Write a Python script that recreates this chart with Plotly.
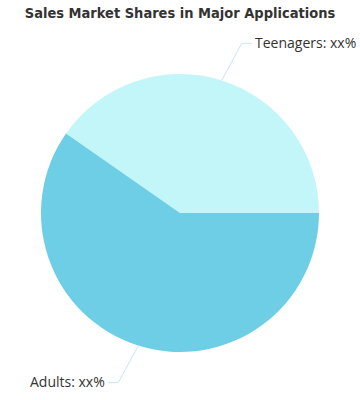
import math
import plotly.graph_objects as go

labels = ["Teenagers", "Adults"]
values = [40.3, 59.7]
label_texts = ["Teenagers: xx%", "Adults: xx%"]
colors = ["#c3f6f9", "#6dcee6"]

W, H = 360, 400
cx, cy, R = 180, 213, 139
total = sum(values)
first_deg = values[0] / total * 360.0

fig = go.Figure(go.Pie(
    labels=labels, values=values, sort=False,
    direction="counterclockwise", rotation=90 - first_deg,
    marker=dict(colors=colors, line=dict(width=0)),
    textinfo="none", hoverinfo="label+percent",
    domain=dict(x=[(cx - R) / W, (cx + R) / W],
                y=[1 - (cy + R) / H, 1 - (cy - R) / H]),
    showlegend=False,
))

px = lambda x: x / W
py = lambda y: 1 - y / H

shapes, annotations = [], []
start = 0.0
for v, txt in zip(values, label_texts):
    mid = start + v / total * 180.0  # degrees, counterclockwise from 3 o'clock
    start += v / total * 360.0
    a = math.radians(mid)
    x0, y0 = cx + R * math.cos(a), cy - R * math.sin(a)
    side = 1 if math.cos(a) >= 0 else -1
    vert = -1 if math.sin(a) >= 0 else 1
    x1, y1 = x0 + 20 * side, y0 + 37 * vert
    x2 = x1 + 10 * side
    shapes.append(dict(type="path", xref="paper", yref="paper",
                       path=f"M {px(x0)} {py(y0)} L {px(x1)} {py(y1)} L {px(x2)} {py(y1)}",
                       line=dict(color="#c6e8ee", width=1)))
    annotations.append(dict(x=px(x2 + 1 * side), y=py(y1 - 1), xref="paper", yref="paper",
                            text=txt, showarrow=False,
                            xanchor="left" if side > 0 else "right", yanchor="middle",
                            font=dict(family="Open Sans", size=14, color="#333333")))

fig.update_layout(
    width=W, height=H,
    margin=dict(l=0, r=0, t=0, b=0),
    paper_bgcolor="white", plot_bgcolor="white",
    title=dict(text="<b>Sales Market Shares in Major Applications</b>",
               x=0.5, xanchor="center", y=1 - 13 / H, yanchor="middle",
               font=dict(family="DejaVu Sans Condensed", size=14.5, color="#333333")),
    shapes=shapes, annotations=annotations,
)

fig.write_html("out.html")
